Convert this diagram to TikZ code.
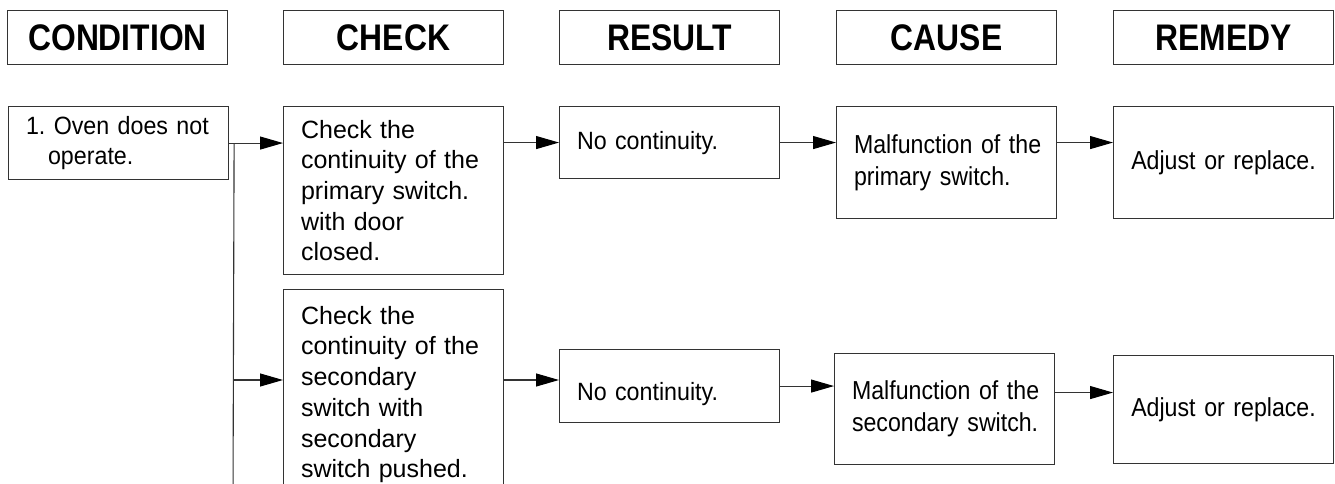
\documentclass[tikz,border=0pt]{standalone}
\usepackage{fontspec}
\setmainfont{Liberation Sans}
\newfontfamily\headfont[FakeStretch=0.86]{Liberation Sans}
\newfontfamily\narrowfont[FakeStretch=0.89]{Liberation Sans}
\newfontfamily\resfont[FakeStretch=0.93]{Liberation Sans}
\usetikzlibrary{positioning,arrows.meta}
\frenchspacing

\begin{document}
\begin{tikzpicture}[x=1pt,y=-1pt,
  box/.style={draw=black!80,line width=1.1pt,anchor=north west,inner xsep=17.5pt,
    inner ysep=0pt,text width=185pt,align=left,font=\fontsize{25}{30.7}\selectfont},
  headbox/.style={box,align=center,minimum height=54pt,
    font=\headfont\bfseries\fontsize{37}{40}\selectfont},
  resbox/.style={box,font=\resfont\fontsize{25}{30.7}\selectfont},
  causebox/.style={box,font=\narrowfont\fontsize{26}{32}\selectfont},
  arr/.style={draw=black!80,line width=1.1pt,-{Triangle[length=23pt,width=13pt,color=black]}},
  link/.style={draw=black!80,line width=1.1pt}]
  \useasboundingbox (0,0) rectangle (1335,484);
  \clip (0,0) rectangle (1335,484);

  % header row
  \node[headbox] (hcond)   at (7,10)    {CONDITION};
  \node[headbox] (hcheck)  at (283,10)  {CHECK};
  \node[headbox] (hresult) at (559,10)  {RESULT};
  \node[headbox] (hcause)  at (836,10)  {CAUSE};
  \node[headbox] (hremedy) at (1113,10) {REMEDY};

  % condition
  \node[resbox,minimum height=73pt] (cond) at (8,106)
    {1.~Oven~does~not\\\hspace*{22pt}operate.};

  % primary switch row
  \node[box,minimum height=168pt] (chkA) at (283,106)
    {Check the\\continuity~of~the\\primary~switch.\\with door\\closed.};
  \node[resbox,minimum height=72pt] (resA) at (559,106) {No continuity.};
  \node[causebox,minimum height=112pt] (causeA) at (836,106)
    {Malfunction~of~the\\primary~switch.};
  \node[causebox,align=center,minimum height=112pt] (remA) at (1113,106)
    {Adjust~or~replace.};

  % secondary switch row
  \node[box,minimum height=210pt] (chkB) at (283,289)
    {Check the\\continuity~of~the\\secondary\\switch~with\\secondary\\switch~pushed.};
  \node[resbox,minimum height=73pt] (resB) at (559,349)
    {\raisebox{-8pt}[\height][\depth]{No continuity.}};
  \node[causebox,minimum height=111pt] (causeB) at (834,353)
    {Malfunction~of~the\\secondary~switch.};
  \node[causebox,align=center,minimum height=108pt] (remB) at (1113,355)
    {Adjust~or~replace.};

  % branch line
  \coordinate (split) at ([xshift=5pt]cond.east);
  \coordinate (splitB) at (233,380);
  \coordinate (splitEnd) at (233,500);
  \coordinate (outB) at ([yshift=16.5pt]causeB.east);
  \draw[link] (split) -- (splitEnd);

  % arrows
  \draw[arr] (cond.east) -- (cond.east -| chkA.west);
  \draw[arr] (resA.west -| chkA.east) -- (resA.west);
  \draw[arr] (resA.east) -- (resA.east -| causeA.west);
  \draw[arr] (resA.east -| causeA.east) -- (resA.east -| remA.west);
  \draw[arr] (splitB) -- (splitB -| chkB.west);
  \draw[arr] (splitB -| chkB.east) -- (splitB -| resB.west);
  \draw[arr] (resB.east) -- (resB.east -| causeB.west);
  \draw[arr] (outB) -- (outB -| remB.west);
\end{tikzpicture}
\end{document}
